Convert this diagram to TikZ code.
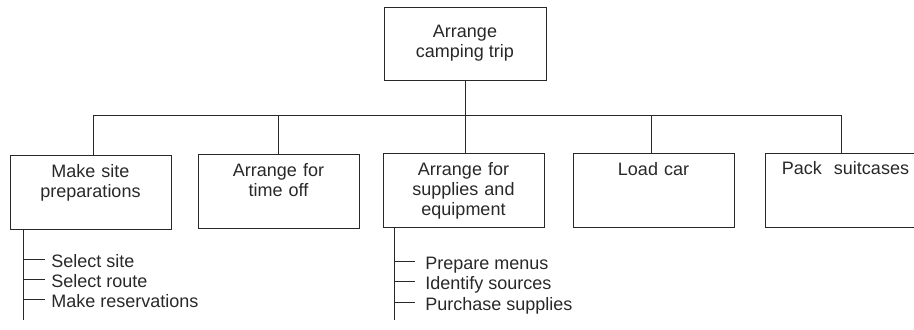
\documentclass[tikz,border=0pt]{standalone}
\usepackage{fontspec}
\setmainfont{Liberation Sans}
\definecolor{inkgray}{RGB}{40,40,40}

\begin{document}
\begin{tikzpicture}[
  x=0.75pt, y=-0.75pt,
  font=\fontsize{13.5}{15}\selectfont,
  text=inkgray,
  goal/.style={draw=inkgray, line width=0.7pt, minimum width=121.5pt, minimum height=54.75pt, align=center, inner sep=0pt},
  task/.style={draw=inkgray, line width=0.7pt, text width=120.75pt, align=center, inner sep=0pt, text height=16.5pt, text depth=39pt, anchor=north},
  subtask/.style={anchor=west, inner sep=0pt, text height=12pt, text depth=0pt},
  link/.style={draw=inkgray, line width=0.7pt}
]
\useasboundingbox (0,0) rectangle (914,329);
\node[goal] (trip) at (465,43.5) {Arrange\\camping trip};
\node[task] (site) at (90.5,155) {Make site\\preparations};
\node[task] (timeoff) at (278.5,154) {Arrange for\\time off};
\node[task] (supplies) at (463.5,153) {Arrange for\\supplies and\\equipment};
\node[task] (car) at (653.5,153) {Load car};
\node[task] (pack) at (845.5,152.5) {Pack\ \ suitcases};
\coordinate (bus) at (465,115);
\draw[link] (trip.south) -- (trip.south |- supplies.north);
\draw[link] ([xshift=1.9pt]site.north |- bus) -- ([xshift=-2.9pt]pack.north |- bus);
\draw[link] ([xshift=1.9pt]site.north |- bus) -- ([xshift=1.9pt]site.north);
\draw[link] (timeoff.north |- bus) -- (timeoff.north);
\draw[link] ([xshift=-1.9pt]car.north |- bus) -- ([xshift=-1.9pt]car.north);
\draw[link] ([xshift=-2.9pt]pack.north |- bus) -- ([xshift=-2.9pt]pack.north);
\coordinate (siteend) at (23.3,320);
\node[subtask] (pick) at (51,259.5) {Select site};
\node[subtask] (route) at (51,279.5) {Select route};
\node[subtask] (book) at (51,299.5) {Make reservations};
\draw[link] (site.south -| siteend) -- (siteend);
\draw[link] (pick.west -| siteend) -- ([xshift=-4.5pt]pick.west);
\draw[link] (route.west -| siteend) -- ([xshift=-4.5pt]route.west);
\draw[link] (book.west -| siteend) -- ([xshift=-4.5pt]book.west);
\coordinate (supend) at (394.7,320);
\node[subtask] (menus) at (425,261.7) {Prepare menus};
\node[subtask] (sources) at (425,281.7) {Identify sources};
\node[subtask] (buy) at (425,302) {Purchase supplies};
\draw[link] (supplies.south -| supend) -- (supend);
\draw[link] (menus.west -| supend) -- ([xshift=-7.5pt]menus.west);
\draw[link] (sources.west -| supend) -- ([xshift=-7.5pt]sources.west);
\draw[link] (buy.west -| supend) -- ([xshift=-7.5pt]buy.west);
\end{tikzpicture}
\end{document}
